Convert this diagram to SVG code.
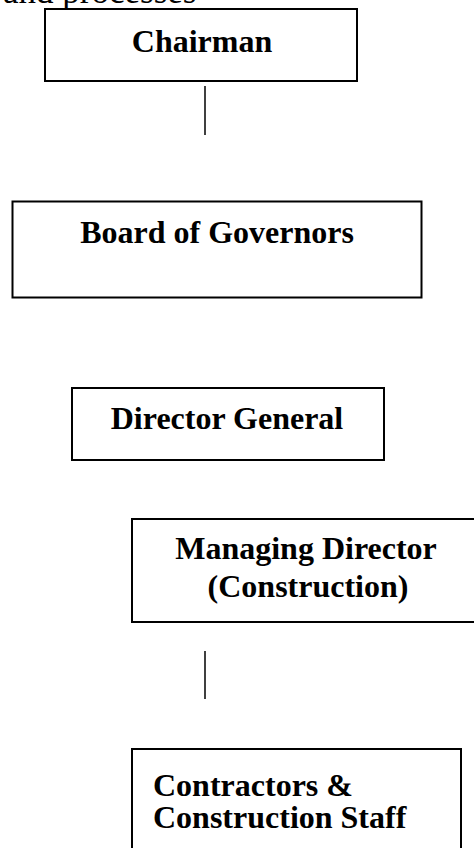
<svg xmlns="http://www.w3.org/2000/svg" width="474" height="848" viewBox="0 0 474 848">
<style>
.box{fill:#fff;stroke:#000;stroke-width:2}
.t{font-family:"Liberation Serif","Times New Roman",serif;font-weight:bold;font-size:32px;fill:#000}
.c{stroke:#000;stroke-width:1.5;fill:none}
</style>
<rect width="474" height="848" fill="#fff"/>
<text x="3" y="3" style="font-family:'Liberation Serif',serif;font-size:35px">and processes</text>
<g id="connectors">
<line class="c" x1="205" y1="86" x2="205" y2="135"/>
<line class="c" x1="205" y1="651" x2="205" y2="699"/>
</g>
<g id="chairman">
<rect class="box" x="45" y="9" width="312" height="72"/>
<text class="t" x="202" y="52" text-anchor="middle">Chairman</text>
</g>
<g id="board">
<rect class="box" x="12.5" y="201.5" width="409" height="96"/>
<text class="t" x="217" y="243" text-anchor="middle">Board of Governors</text>
</g>
<g id="dg">
<rect class="box" x="72" y="388" width="312" height="72"/>
<text class="t" x="227" y="429" text-anchor="middle">Director General</text>
</g>
<g id="md">
<rect class="box" x="132" y="519" width="345" height="103"/>
<text class="t" x="306" y="559" text-anchor="middle">Managing Director</text>
<text class="t" x="308" y="597" text-anchor="middle">(Construction)</text>
</g>
<g id="contractors">
<rect class="box" x="132" y="749" width="329" height="110"/>
<text class="t" x="153" y="796">Contractors &amp;</text>
<text class="t" x="153" y="828">Construction Staff</text>
</g>
</svg>
